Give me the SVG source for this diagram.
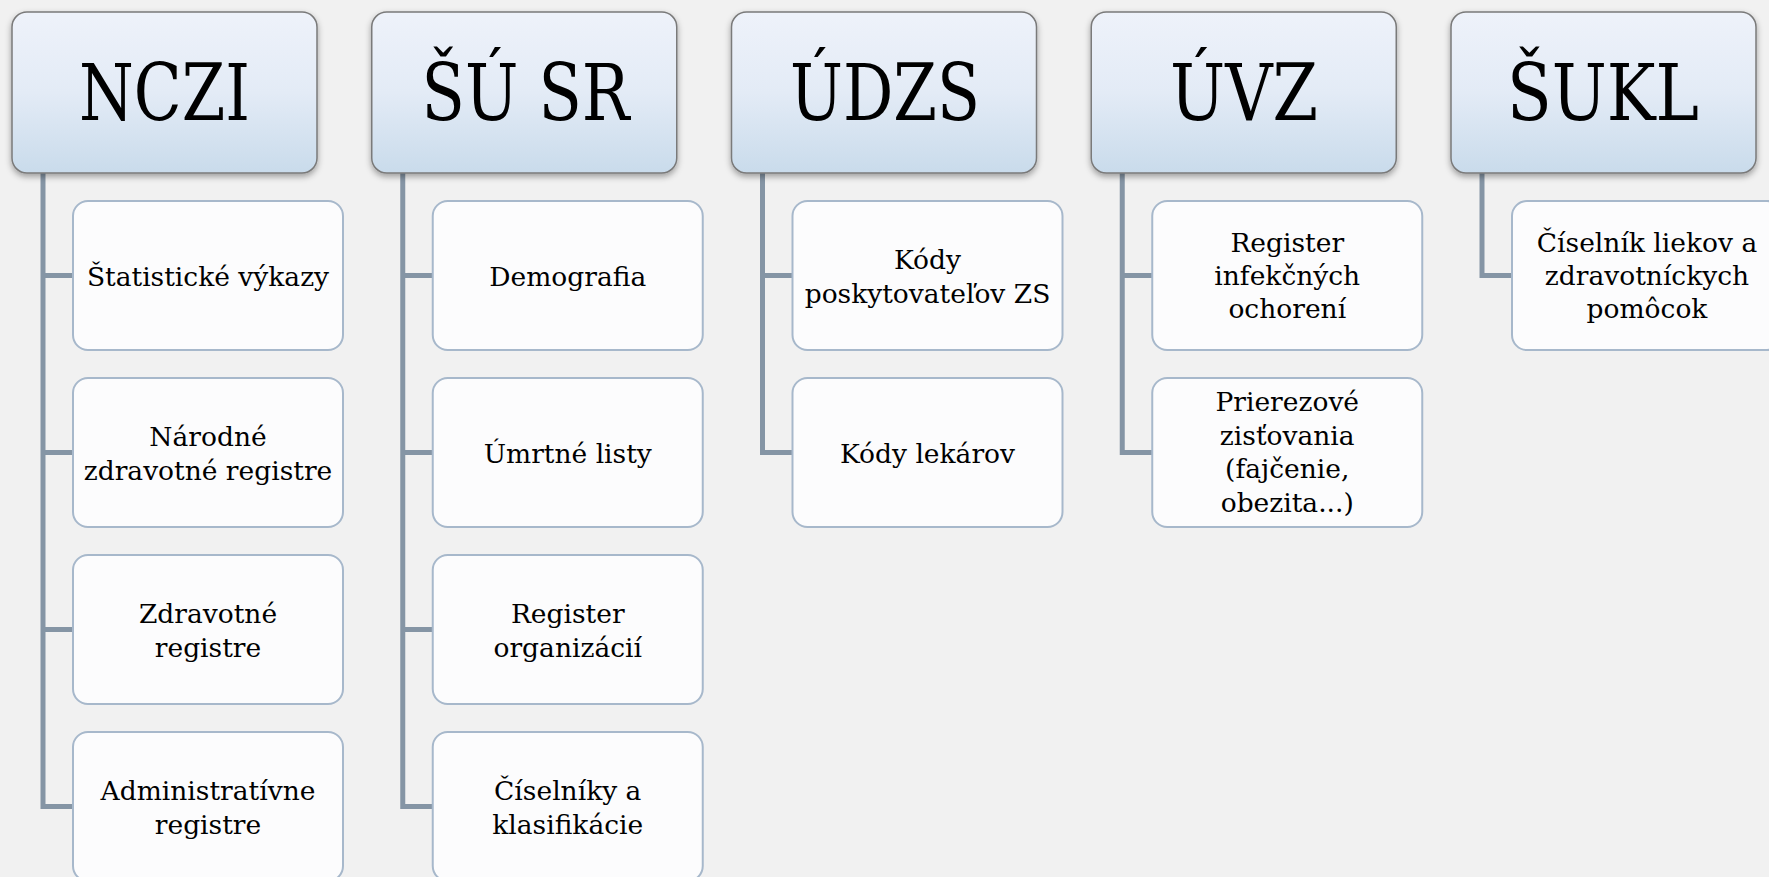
<svg xmlns="http://www.w3.org/2000/svg" width="1769" height="877" viewBox="0 0 1769 877">
<defs>
<linearGradient id="hg" x1="0" y1="0" x2="0" y2="1">
<stop offset="0" stop-color="#EEF2FA"/>
<stop offset="0.5" stop-color="#E3EBF6"/>
<stop offset="1" stop-color="#C9DBEB"/>
</linearGradient>
<filter id="sh" x="-10%" y="-10%" width="120%" height="130%">
<feDropShadow dx="0" dy="3" stdDeviation="3" flood-color="#000" flood-opacity="0.35"/>
</filter>
</defs>
<style>
.hd{fill:url(#hg);stroke:#7A7A7A;stroke-width:1.5;filter:url(#sh)}
.ch{fill:#FCFCFD;stroke:#A7B8CB;stroke-width:2}
.ht{font-family:"DejaVu Serif","Liberation Serif",serif;font-size:78px;fill:#000;text-anchor:middle}
.ct{font-family:"DejaVu Serif","Liberation Serif",serif;font-size:26.5px;fill:#000;text-anchor:middle}
.cn{fill:none;stroke:#8595A5;stroke-width:5;stroke-linejoin:miter}
</style>
<rect width="1769" height="877" fill="#F1F1F1"/>
<g id="connectors">
<path class="cn" d="M43,173 V806.5 H73 M43,275.5 H73 M43,452.5 H73 M43,629.5 H73"/>
<path class="cn" d="M402.75,173 V806.5 H432.75 M402.75,275.5 H432.75 M402.75,452.5 H432.75 M402.75,629.5 H432.75"/>
<path class="cn" d="M762.5,173 V452.5 H792.5 M762.5,275.5 H792.5"/>
<path class="cn" d="M1122.25,173 V452.5 H1152.25 M1122.25,275.5 H1152.25"/>
<path class="cn" d="M1482,173 V275.5 H1512"/>
</g>
<g id="h-nczi"><rect class="hd" x="12" y="12" width="305" height="161" rx="15"/><text class="ht" x="164.5" y="120" textLength="171" lengthAdjust="spacingAndGlyphs">NCZI</text></g>
<g id="h-susr"><rect class="hd" x="371.75" y="12" width="305" height="161" rx="15"/><text class="ht" x="525.5" y="120" textLength="208" lengthAdjust="spacingAndGlyphs">ŠÚ SR</text></g>
<g id="h-udzs"><rect class="hd" x="731.5" y="12" width="305" height="161" rx="15"/><text class="ht" x="885" y="120" textLength="190" lengthAdjust="spacingAndGlyphs">ÚDZS</text></g>
<g id="h-uvz"><rect class="hd" x="1091.25" y="12" width="305" height="161" rx="15"/><text class="ht" x="1244" y="120" textLength="148" lengthAdjust="spacingAndGlyphs">ÚVZ</text></g>
<g id="h-sukl"><rect class="hd" x="1451" y="12" width="305" height="161" rx="15"/><text class="ht" x="1603" y="120" textLength="192" lengthAdjust="spacingAndGlyphs">ŠUKL</text></g>

<g id="c-nczi-1"><rect class="ch" x="73" y="201" width="270" height="149" rx="15"/><text class="ct" x="208" y="285.5">Štatistické výkazy</text></g>
<g id="c-nczi-2"><rect class="ch" x="73" y="378" width="270" height="149" rx="15"/><text class="ct"><tspan x="208" y="445.5">Národné</tspan><tspan x="208" y="479.5">zdravotné registre</tspan></text></g>
<g id="c-nczi-3"><rect class="ch" x="73" y="555" width="270" height="149" rx="15"/><text class="ct"><tspan x="208" y="622.5">Zdravotné</tspan><tspan x="208" y="656.5">registre</tspan></text></g>
<g id="c-nczi-4"><rect class="ch" x="73" y="732" width="270" height="149" rx="15"/><text class="ct"><tspan x="208" y="799.5">Administratívne</tspan><tspan x="208" y="833.5">registre</tspan></text></g>

<g id="c-susr-1"><rect class="ch" x="432.75" y="201" width="270" height="149" rx="15"/><text class="ct" x="567.75" y="285.5">Demografia</text></g>
<g id="c-susr-2"><rect class="ch" x="432.75" y="378" width="270" height="149" rx="15"/><text class="ct" x="567.75" y="462.5">Úmrtné listy</text></g>
<g id="c-susr-3"><rect class="ch" x="432.75" y="555" width="270" height="149" rx="15"/><text class="ct"><tspan x="567.75" y="622.5">Register</tspan><tspan x="567.75" y="656.5">organizácií</tspan></text></g>
<g id="c-susr-4"><rect class="ch" x="432.75" y="732" width="270" height="149" rx="15"/><text class="ct"><tspan x="567.75" y="799.5">Číselníky a</tspan><tspan x="567.75" y="833.5">klasifikácie</tspan></text></g>

<g id="c-udzs-1"><rect class="ch" x="792.5" y="201" width="270" height="149" rx="15"/><text class="ct"><tspan x="927.5" y="268.5">Kódy</tspan><tspan x="927.5" y="302.5">poskytovateľov ZS</tspan></text></g>
<g id="c-udzs-2"><rect class="ch" x="792.5" y="378" width="270" height="149" rx="15"/><text class="ct" x="927.5" y="462.5">Kódy lekárov</text></g>

<g id="c-uvz-1"><rect class="ch" x="1152.25" y="201" width="270" height="149" rx="15"/><text class="ct"><tspan x="1287.25" y="252">Register</tspan><tspan x="1287.25" y="285">infekčných</tspan><tspan x="1287.25" y="318">ochorení</tspan></text></g>
<g id="c-uvz-2"><rect class="ch" x="1152.25" y="378" width="270" height="149" rx="15"/><text class="ct"><tspan x="1287.25" y="411">Prierezové</tspan><tspan x="1287.25" y="444.5">zisťovania</tspan><tspan x="1287.25" y="478">(fajčenie,</tspan><tspan x="1287.25" y="511.5">obezita...)</tspan></text></g>

<g id="c-sukl-1"><rect class="ch" x="1512" y="201" width="270" height="149" rx="15"/><text class="ct"><tspan x="1647" y="252">Číselník liekov a</tspan><tspan x="1647" y="285">zdravotníckych</tspan><tspan x="1647" y="318">pomôcok</tspan></text></g>
</svg>
